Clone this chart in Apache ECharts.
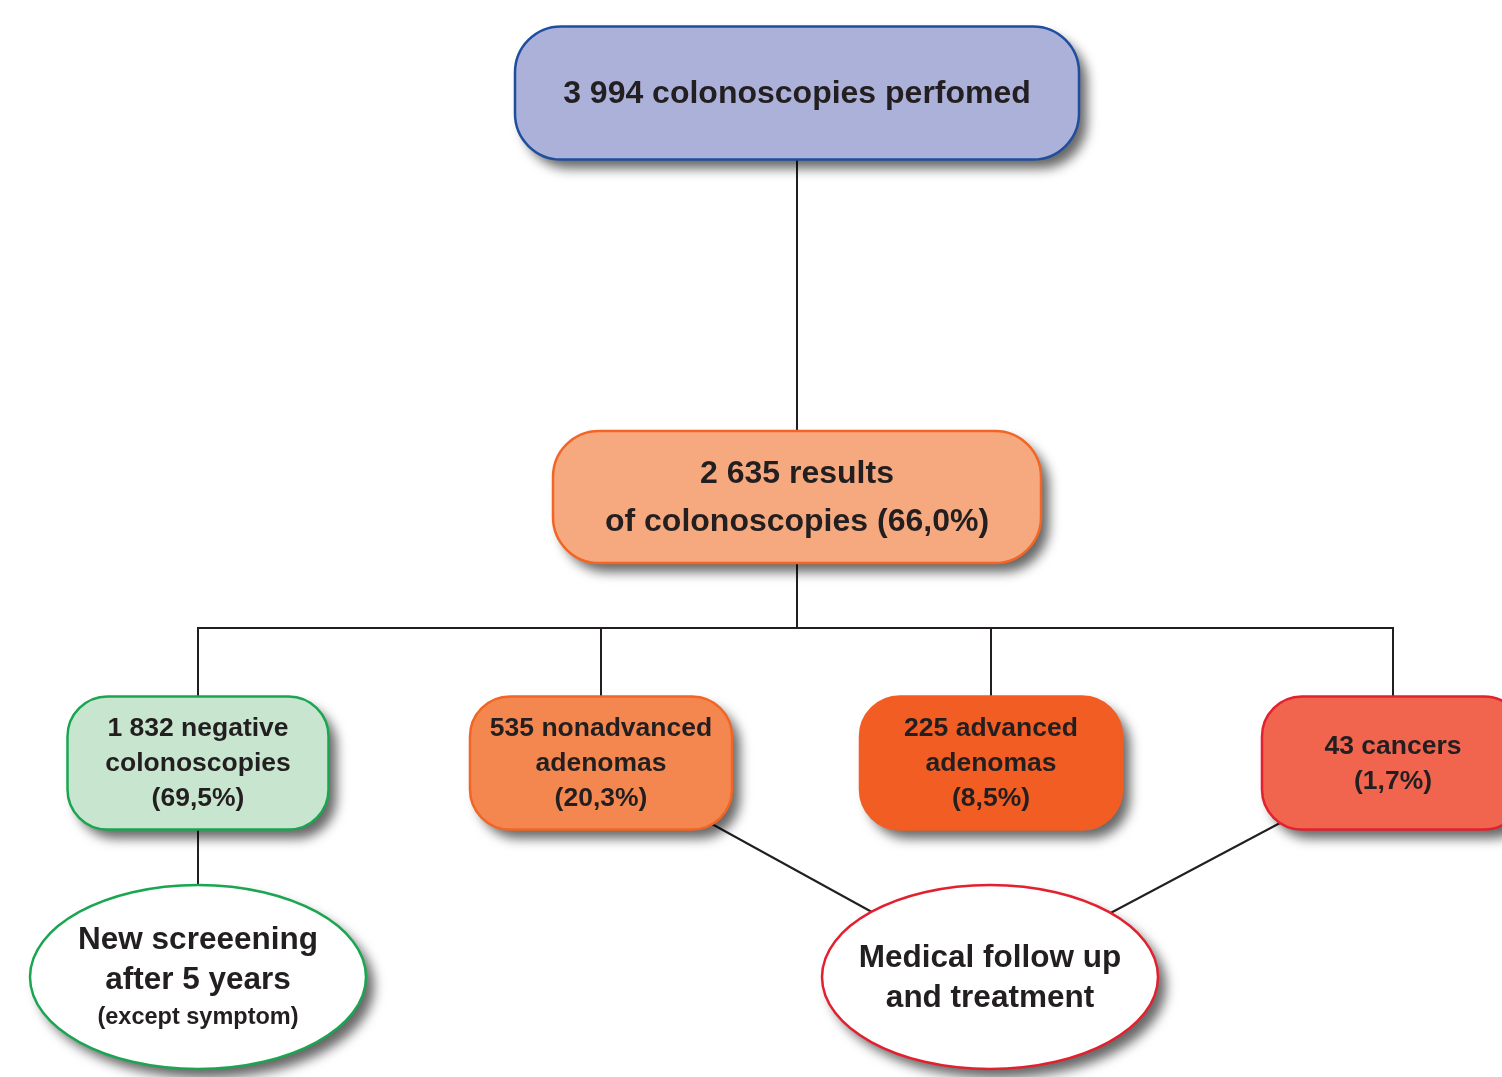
<!DOCTYPE html>
<html lang="en">
<head>
    <title>Colonoscopy results flowchart</title>
    <meta charset="utf-8">
    <script src="https://cdn.jsdelivr.net/npm/echarts@6.0.0/dist/echarts.min.js"></script>
    <style>
        body { margin: 0; background: #fff; }
        #chart { width: 1502px; height: 1077px; }
    </style>
</head>
<body>
<div id="chart"></div>
<script>
    // data: box texts, outcome texts and which box feeds which
    const boxLabels = [
        '3 994 colonoscopies perfomed',
        '2 635 results\nof colonoscopies (66,0%)',
        '1 832 negative\ncolonoscopies\n(69,5%)',
        '535 nonadvanced\nadenomas\n(20,3%)',
        '225 advanced\nadenomas\n(8,5%)',
        '43 cancers\n(1,7%)'
    ];
    const outcomeLabels = ['New screeening\nafter 5 years', 'Medical follow up\nand treatment'];
    const outcomeNotes = ['(except symptom)', ''];
    const treeLinks = [[0, 1], [1, 2], [1, 3], [1, 4], [1, 5]];   // box -> box
    const outcomeLinks = [[2, 0], [3, 1], [5, 1]];                // box -> outcome

    // layout (pixels of the 1502 x 1077 canvas)
    const boxPos = [
        {x: 797, y: 93, w: 564, h: 133, r: 46, font: 32, lh: 48},
        {x: 797, y: 497, w: 488, h: 132, r: 46, font: 32, lh: 48},
        {x: 198, y: 763, w: 261, h: 133, r: 40, font: 26.5, lh: 35},
        {x: 601, y: 763, w: 262, h: 133, r: 40, font: 26.5, lh: 35},
        {x: 991, y: 763, w: 262, h: 133, r: 40, font: 26.5, lh: 35},
        {x: 1393, y: 763, w: 262, h: 133, r: 40, font: 26.5, lh: 35}
    ];
    const outcomePos = [
        {x: 198, y: 977, rx: 168, ry: 92},
        {x: 990, y: 977, rx: 168, ry: 92}
    ];
    const busY = 628;

    const boxFill = ['#abb1d9', '#f6a97f', '#c8e6cf', '#f4874f', '#f15d22', '#f1654f'];
    const boxStroke = ['#1f4e9e', '#f26524', '#1aa650', '#f26524', '#f15d22', '#e2202e'];
    const outcomeStroke = ['#1aa650', '#e2202e'];
    const textColor = '#231f20';
    const fontFamily = 'Liberation Sans';
    const shadow = {shadowBlur: 12, shadowOffsetX: 8, shadowOffsetY: 9, shadowColor: 'rgba(0,0,0,0.6)'};

    const chart = echarts.init(document.getElementById('chart'));

    // connector lines: each item is a polyline given in canvas units
    const linkData = [];
    treeLinks.forEach(function (l) {
        const p = boxPos[l[0]], c = boxPos[l[1]];
        if (p.x === c.x) {
            linkData.push([p.x, p.y, p.x, p.y, c.x, c.y, c.x, c.y]);
        } else {
            linkData.push([p.x, p.y, p.x, busY, c.x, busY, c.x, c.y]);
        }
    });
    outcomeLinks.forEach(function (l) {
        const p = boxPos[l[0]], c = outcomePos[l[1]];
        linkData.push([p.x, p.y, p.x, p.y, c.x, c.y, c.x, c.y]);
    });

    const option = {
        animation: false,
        grid: {left: 0, right: 0, top: 0, bottom: 0},
        xAxis: {type: 'value', min: 0, max: 1502, show: false},
        yAxis: {type: 'value', min: 0, max: 1077, inverse: true, show: false},
        series: [
            {
                type: 'custom',
                z: 1,
                data: linkData,
                encode: {x: [0, 2, 4, 6], y: [1, 3, 5, 7]},
                renderItem: function (params, api) {
                    const pts = [];
                    for (let k = 0; k < 4; k++) {
                        pts.push(api.coord([api.value(k * 2), api.value(k * 2 + 1)]));
                    }
                    return {
                        type: 'polyline',
                        shape: {points: pts},
                        style: {stroke: textColor, lineWidth: 2, fill: null}
                    };
                }
            },
            {
                type: 'custom',
                z: 2,
                data: boxPos.map(function (b, i) { return [b.x, b.y, i]; }),
                encode: {x: 0, y: 1},
                renderItem: function (params, api) {
                    const i = api.value(2);
                    const b = boxPos[i];
                    const a = api.coord([b.x - b.w / 2, b.y - b.h / 2]);
                    const z = api.coord([b.x + b.w / 2, b.y + b.h / 2]);
                    const c = api.coord([b.x, b.y]);
                    const shape = {x: a[0], y: a[1], width: z[0] - a[0], height: z[1] - a[1], r: b.r};
                    return {
                        type: 'group',
                        children: [
                            {
                                type: 'rect',
                                shape: shape,
                                style: Object.assign({fill: boxFill[i]}, shadow)
                            },
                            {
                                type: 'rect',
                                shape: shape,
                                style: {fill: boxFill[i], stroke: boxStroke[i], lineWidth: 2.5}
                            },
                            {
                                type: 'text',
                                x: c[0], y: c[1] + 1,
                                style: {
                                    text: boxLabels[i], align: 'center', verticalAlign: 'middle',
                                    fontFamily: fontFamily, fontWeight: 'bold', fontSize: b.font,
                                    lineHeight: b.lh, fill: textColor
                                }
                            }
                        ]
                    };
                }
            },
            {
                type: 'custom',
                z: 2,
                data: outcomePos.map(function (o, i) { return [o.x, o.y, i]; }),
                encode: {x: 0, y: 1},
                renderItem: function (params, api) {
                    const i = api.value(2);
                    const o = outcomePos[i];
                    const c = api.coord([o.x, o.y]);
                    let txt = '{a|' + outcomeLabels[i].split('\n').join('}\n{a|') + '}';
                    if (outcomeNotes[i]) txt += '\n{b|' + outcomeNotes[i] + '}';
                    const shape = {cx: c[0], cy: c[1], rx: o.rx, ry: o.ry};
                    return {
                        type: 'group',
                        children: [
                            {
                                type: 'ellipse',
                                shape: shape,
                                style: Object.assign({fill: '#fff'}, shadow)
                            },
                            {
                                type: 'ellipse',
                                shape: shape,
                                style: {fill: '#fff', stroke: outcomeStroke[i], lineWidth: 2.5}
                            },
                            {
                                type: 'text',
                                x: c[0], y: c[1] + 1,
                                style: {
                                    text: txt, align: 'center', verticalAlign: 'middle',
                                    fontFamily: fontFamily, fontWeight: 'bold', fill: textColor,
                                    rich: {
                                        a: {fontSize: 31.5, lineHeight: 40, fontWeight: 'bold', fontFamily: fontFamily, fill: textColor},
                                        b: {fontSize: 23.5, lineHeight: 36, fontWeight: 'bold', fontFamily: fontFamily, fill: textColor}
                                    }
                                }
                            }
                        ]
                    };
                }
            }
        ]
    };
    chart.setOption(option);
</script>
</body>
</html>
